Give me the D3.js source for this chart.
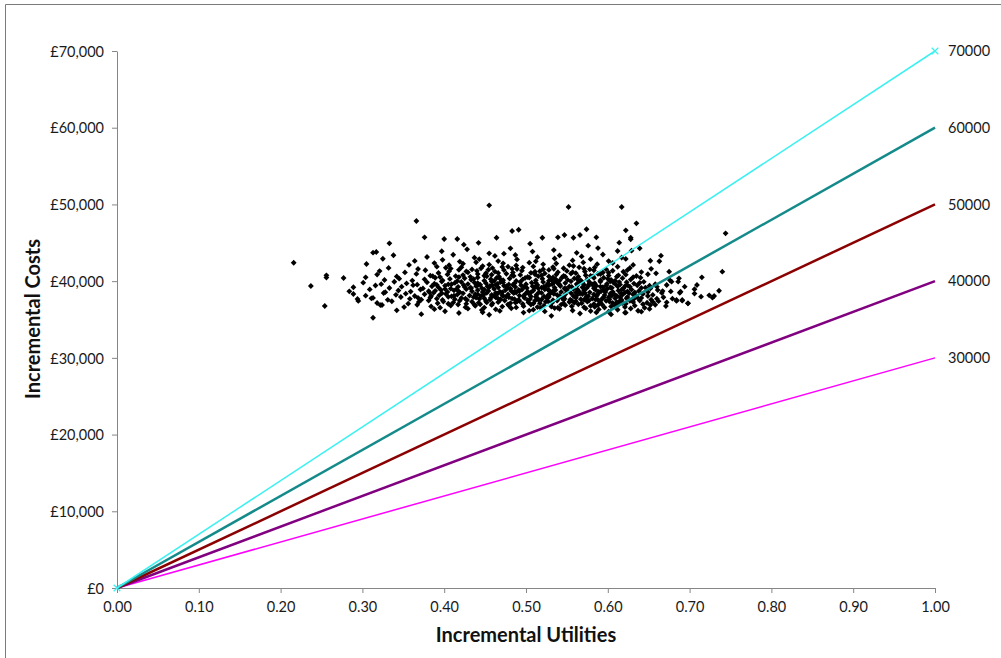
<!DOCTYPE html>
<html lang="en">
<head>
    <meta charset="UTF-8">
    <script src="https://d3js.org/d3.v7.min.js"></script>
    <title>Cost-effectiveness plane</title>
    <style>
        body { margin: 0; background: #fff; }
        svg { display: block; }
        .tick text { font-family: Lato, "Open Sans", sans-serif; font-size: 14.5px; fill: #1a1a1a; }
        .axis-title { font-family: Lato, "Open Sans", sans-serif; font-size: 20px; font-weight: bold; fill: #111; }
        .wtp-label { font-family: Lato, "Open Sans", sans-serif; font-size: 14.5px; fill: #1a1a1a; }
    </style>
</head>
<body>
<div id="chart"></div>
<script>

// willingness-to-pay thresholds (cost per unit utility)
const thresholds = [30000, 40000, 50000, 60000, 70000];
const thresholdColors = ['#ff00ff', '#800080', '#8b0000', '#148a8a', '#3ff0f0'];
const thresholdWidths = [1.5, 2.5, 2.5, 2.5, 1.5];

const xTicks = [0, 0.1, 0.2, 0.3, 0.4, 0.5, 0.6, 0.7, 0.8, 0.9, 1.0];
const yTicks = [0, 10000, 20000, 30000, 40000, 50000, 60000, 70000];

// scattered simulation results, outer points
const sparsePoints = [
    [0.455,49880],[0.552,49660],[0.617,49660],[0.366,47840],[0.635,47540],[0.483,46540],[0.491,46700],
    [0.574,46760],[0.622,46620],[0.744,46230],[0.730,38060],[0.736,38750],[0.698,37110],[0.691,37540],
    [0.684,37540],[0.652,36890],[0.641,36020],[0.621,35890],[0.313,35230],[0.324,36890],[0.254,36760],
    [0.294,37670],[0.311,37760],[0.333,44930],[0.376,45710],[0.400,45490],[0.416,45490],[0.464,45660],
    [0.520,45660],[0.539,45710],[0.547,46010],[0.558,45660],[0.566,46010],[0.586,45710],[0.628,45660],
    [0.628,45450],[0.614,45010],[0.424,44750],[0.442,44990],[0.505,44880],[0.576,44620]
];

// dense part of the cloud
const densePoints = [
    [0.372,35700],[0.418,35850],[0.455,35620],[0.497,35900],[0.531,35480],[0.566,35780],[0.604,35660],[0.622,35890],[0.447,35950],[0.586,35920],
    [0.342,36200],[0.388,36350],[0.401,36080],[0.429,36410],[0.446,36230],[0.468,36120],[0.482,36460],[0.509,36280],[0.523,36050],[0.541,36390],
    [0.557,36170],[0.573,36440],[0.589,36310],[0.601,36020],[0.612,36270],[0.628,36430],[0.637,36140],[0.651,36380],[0.463,36330],[0.535,36490],
    [0.579,36100],[0.504,36150],
    [0.322,36880],[0.351,36620],[0.367,36910],[0.384,36700],[0.395,36540],[0.408,36830],[0.417,36960],[0.426,36610],[0.438,36790],[0.449,36550],
    [0.458,36900],[0.471,36680],[0.479,36830],[0.488,36570],[0.497,36740],[0.506,36950],[0.514,36620],[0.522,36810],[0.531,36690],[0.539,36530],
    [0.548,36870],[0.556,36720],[0.564,36980],[0.571,36600],[0.579,36770],[0.588,36890],[0.596,36560],[0.604,36710],[0.613,36940],[0.621,36630],
    [0.633,36800],[0.645,36520],[0.658,36920],[0.671,36750],[0.444,36990],[0.518,36510],[0.584,36650],[0.609,36830],
    [0.295,37420],[0.318,37150],[0.336,37380],[0.356,37060],[0.369,37290],[0.381,37470],[0.392,37120],[0.399,37330],[0.411,37210],[0.419,37450],
    [0.427,37040],[0.434,37310],[0.442,37170],[0.451,37400],[0.459,37090],[0.466,37260],[0.474,37480],[0.481,37140],[0.489,37350],[0.496,37020],
    [0.503,37230],[0.511,37440],[0.517,37110],[0.524,37300],[0.532,37190],[0.538,37460],[0.546,37070],[0.553,37280],[0.561,37390],[0.568,37130],
    [0.575,37320],[0.583,37010],[0.591,37240],[0.598,37430],[0.606,37160],[0.614,37350],[0.622,37050],[0.631,37270],[0.639,37480],[0.648,37180],
    [0.662,37390],[0.684,37420],[0.691,37450],[0.698,37110],[0.672,37240],[0.487,37200],[0.556,37470],[0.602,37330],
    [0.313,37810],[0.331,37560],[0.347,37930],[0.358,37690],[0.372,37580],[0.383,37860],[0.391,37720],[0.398,37540],[0.405,37960],[0.413,37640],
    [0.421,37800],[0.428,37530],[0.436,37910],[0.443,37680],[0.449,37770],[0.456,37590],[0.463,37880],[0.469,37620],[0.476,37990],[0.483,37730],
    [0.491,37570],[0.498,37840],[0.505,37660],[0.512,37950],[0.519,37610],[0.526,37780],[0.533,37520],[0.541,37890],[0.547,37700],[0.554,37580],
    [0.561,37830],[0.567,37650],[0.574,37970],[0.581,37740],[0.588,37550],[0.595,37870],[0.602,37630],[0.609,37760],[0.617,37530],[0.624,37920],
    [0.632,37690],[0.641,37810],[0.653,37580],[0.668,37900],[0.679,37720],[0.714,37980],[0.728,37850],[0.439,37850],[0.502,37530],[0.528,37940],
    [0.571,37570],[0.593,37700],[0.615,37880],[0.466,37720],[0.546,37960],
    [0.289,38320],[0.304,38110],[0.326,38450],[0.341,38210],[0.353,38370],[0.364,38060],[0.376,38290],[0.387,38480],[0.394,38150],[0.402,38340],
    [0.409,38020],[0.416,38250],[0.423,38410],[0.431,38130],[0.438,38300],[0.445,38070],[0.452,38460],[0.458,38190],[0.465,38360],[0.472,38040],
    [0.478,38270],[0.485,38430],[0.492,38120],[0.499,38310],[0.506,38010],[0.513,38230],[0.519,38470],[0.527,38160],[0.534,38350],[0.541,38080],
    [0.548,38280],[0.555,38440],[0.562,38140],[0.569,38320],[0.576,38030],[0.583,38260],[0.589,38490],[0.596,38180],[0.603,38370],[0.611,38090],
    [0.618,38240],[0.626,38420],[0.634,38110],[0.643,38330],[0.655,38200],[0.666,38460],[0.688,38490],[0.706,38380],[0.724,38150],[0.397,38420],
    [0.448,38230],[0.503,38400],[0.538,38200],[0.572,38450],[0.608,38280],[0.461,38090],[0.586,38050],[0.631,38260],
    [0.284,38670],[0.309,38920],[0.328,38560],[0.344,38780],[0.359,38640],[0.371,38910],[0.382,38530],[0.389,38740],[0.396,38860],[0.404,38600],
    [0.412,38790],[0.419,38540],[0.427,38950],[0.434,38680],[0.441,38820],[0.447,38570],[0.454,38730],[0.461,38990],[0.468,38620],[0.475,38850],
    [0.482,38700],[0.488,38510],[0.495,38890],[0.502,38650],[0.509,38780],[0.516,38560],[0.523,38940],[0.529,38710],[0.536,38830],[0.543,38590],
    [0.551,38760],[0.558,38960],[0.565,38630],[0.571,38800],[0.578,38540],[0.585,38870],[0.592,38690],[0.599,38980],[0.606,38610],[0.613,38770],
    [0.621,38520],[0.629,38900],[0.638,38720],[0.649,38580],[0.661,38840],[0.677,38660],[0.706,38940],[0.689,38620],[0.415,38950],[0.471,38540],
    [0.532,38550],[0.563,38900],[0.597,38580],[0.624,38660],[0.492,38720],[0.548,38930],
    [0.237,39370],[0.289,39200],[0.316,39430],[0.333,39110],[0.348,39280],[0.362,39470],[0.374,39050],[0.385,39330],[0.393,39180],[0.401,39410],
    [0.408,39020],[0.417,39260],[0.424,39480],[0.432,39140],[0.439,39350],[0.446,39080],[0.453,39300],[0.459,39450],[0.466,39170],[0.473,39390],
    [0.481,39010],[0.487,39240],[0.494,39460],[0.501,39120],[0.508,39320],[0.515,39060],[0.522,39280],[0.528,39440],[0.535,39150],[0.542,39370],
    [0.549,39030],[0.556,39250],[0.563,39490],[0.569,39190],[0.576,39340],[0.583,39070],[0.591,39290],[0.598,39420],[0.605,39130],[0.612,39310],
    [0.619,39040],[0.627,39270],[0.636,39450],[0.646,39160],[0.660,39280],[0.694,39280],[0.709,39500],[0.672,39500],[0.441,39470],[0.511,39200],
    [0.586,39400],[0.624,39480],
    [0.301,39800],[0.323,39610],[0.339,39920],[0.354,39700],[0.367,39540],[0.379,39850],[0.388,39660],[0.397,39950],[0.405,39580],[0.413,39770],
    [0.421,39890],[0.429,39620],[0.437,39810],[0.444,39530],[0.451,39740],[0.458,39960],[0.465,39640],[0.472,39830],[0.479,39570],[0.486,39710],
    [0.493,39900],[0.500,39600],[0.507,39790],[0.514,39510],[0.521,39880],[0.527,39690],[0.534,39820],[0.541,39560],[0.548,39750],[0.555,39970],
    [0.562,39630],[0.569,39840],[0.577,39590],[0.584,39720],[0.591,39930],[0.599,39650],[0.607,39800],[0.615,39550],[0.623,39870],[0.632,39680],
    [0.644,39910],[0.658,39610],[0.686,39930],[0.678,39930],[0.463,39520],[0.538,39940],[0.571,39520],[0.603,39990],
    [0.256,40460],[0.277,40410],[0.304,40500],[0.327,40150],[0.345,40320],[0.361,40070],[0.376,40240],[0.389,40440],[0.398,40110],[0.407,40290],
    [0.416,40020],[0.425,40380],[0.433,40180],[0.441,40470],[0.449,40060],[0.457,40260],[0.464,40410],[0.472,40130],[0.480,40340],[0.488,40030],
    [0.496,40220],[0.504,40450],[0.512,40100],[0.520,40310],[0.528,40040],[0.536,40270],[0.544,40480],[0.551,40160],[0.559,40350],[0.567,40080],
    [0.575,40230],[0.583,40420],[0.591,40120],[0.600,40300],[0.609,40050],[0.618,40390],[0.628,40200],[0.640,40450],[0.687,40370],[0.715,40500],
    [0.676,40100],[0.533,40490],
    [0.256,40760],[0.318,40850],[0.342,40620],[0.366,40940],[0.383,40710],[0.395,40530],[0.404,40880],[0.414,40660],[0.423,40790],[0.432,40560],
    [0.441,40920],[0.449,40700],[0.458,40830],[0.467,40590],[0.476,40960],[0.485,40680],[0.493,40810],[0.502,40540],[0.511,40900],[0.519,40730],
    [0.528,40610],[0.537,40860],[0.546,40690],[0.555,40980],[0.564,40570],[0.573,40770],[0.582,40640],[0.591,40930],[0.601,40720],[0.611,40580],
    [0.622,40840],[0.635,40670],[0.659,41020],[0.649,40900],
    [0.321,41310],[0.352,41140],[0.377,41420],[0.393,41060],[0.406,41280],[0.418,41470],[0.429,41150],[0.440,41340],[0.451,41030],[0.462,41250],
    [0.473,41440],[0.484,41120],[0.495,41370],[0.506,41080],[0.517,41290],[0.528,41460],[0.539,41170],[0.550,41330],[0.561,41040],[0.572,41260],
    [0.583,41410],[0.594,41130],[0.606,41350],[0.619,41220],[0.641,41180],[0.675,41230],[0.740,41230],[0.454,41490],
    [0.332,41720],[0.368,41580],[0.391,41890],[0.408,41640],[0.421,41810],[0.434,41530],[0.447,41960],[0.459,41700],[0.471,41850],[0.483,41600],
    [0.496,41770],[0.509,41920],[0.521,41550],[0.533,41830],[0.546,41680],[0.558,41970],[0.571,41620],[0.584,41790],[0.598,41540],[0.612,41880],
    [0.627,41710],[0.653,41600],
    [0.216,42400],[0.305,42230],[0.357,42110],[0.388,42350],[0.406,42070],[0.423,42280],[0.439,42460],[0.455,42150],[0.472,42320],[0.488,42040],
    [0.504,42410],[0.521,42190],[0.537,42300],[0.553,42080],[0.570,42440],[0.587,42210],[0.606,42370],[0.631,42120],
    [0.325,42920],[0.364,42640],[0.398,42780],[0.419,42550],[0.443,42880],[0.466,42610],[0.489,42830],[0.512,42580],[0.535,42950],[0.557,42700],
    [0.579,42860],[0.601,42620],[0.622,42900],[0.652,42660],[0.663,42590],
    [0.338,43370],[0.379,43150],[0.411,43440],[0.437,43060],[0.462,43290],[0.487,43410],[0.514,43120],[0.541,43350],[0.568,43220],[0.594,43470],
    [0.617,43080],[0.665,43320],
    [0.313,43710],[0.317,43800],[0.397,43900],[0.428,44150],[0.455,43620],[0.481,44280],[0.508,43850],[0.534,44050],[0.562,43690],[0.588,44310],
    [0.612,43930],[0.629,43970],[0.639,44280],[0.473,43580]
];

// extra points in the darkest middle of the cloud
const corePoints = [
    [0.405,37050],[0.437,36920],[0.452,37230],[0.478,36980],[0.492,37410],[0.509,37080],[0.527,37360],[0.543,36940],[0.559,37180],[0.577,37470],
    [0.593,36960],[0.611,37250],[0.627,37430],[0.643,36990],[0.655,37300],[0.468,37550],[0.515,37580],[0.585,37590],[0.618,37140],[0.546,37550],
    [0.412,38100],[0.426,37700],[0.441,38280],[0.457,37820],[0.471,38180],[0.486,37660],[0.497,38060],[0.514,37760],[0.529,38320],[0.544,37850],
    [0.558,38060],[0.573,37690],[0.587,38200],[0.601,37910],[0.616,38380],[0.636,37880],[0.649,38060],[0.660,37700],[0.384,38050],[0.368,37820],
    [0.479,37900],[0.522,38000],[0.566,38380],[0.605,38130],[0.623,37770],
    [0.401,38990],[0.418,38640],[0.433,39100],[0.449,38900],[0.463,38460],[0.478,39120],[0.491,38850],[0.506,38530],[0.519,39160],[0.533,38680],
    [0.547,39060],[0.561,38510],[0.574,39080],[0.589,38620],[0.603,39170],[0.617,38890],[0.633,38530],[0.652,39050],[0.667,38700],[0.381,38690],
    [0.455,39190],[0.527,38880],[0.595,38820],[0.641,39120],[0.486,38640],
    [0.409,39600],[0.425,39230],[0.441,39750],[0.456,39380],[0.469,39880],[0.484,39520],[0.498,39250],[0.512,39780],[0.525,39400],[0.539,39700],
    [0.553,39310],[0.566,39920],[0.581,39560],[0.594,39210],[0.609,39640],[0.621,39350],[0.639,39780],[0.651,39400],[0.391,39500],[0.476,39340],
    [0.532,39580],[0.578,39830],[0.614,39880],
    [0.418,40530],[0.436,40270],[0.452,40640],[0.468,40330],[0.483,40760],[0.499,40420],[0.515,40650],[0.531,40200],[0.548,40580],[0.563,40250],
    [0.579,40690],[0.595,40440],[0.613,40760],[0.631,40520],[0.386,40650],[0.461,40030],[0.541,40070],[0.604,40170],
    [0.427,41270],[0.445,41680],[0.466,41070],[0.489,41580],[0.511,41220],[0.534,41620],[0.557,41170],[0.578,41540],[0.601,41110],[0.624,41440],
    [0.402,41750],[0.478,41890],[0.523,41010],[0.565,41800],[0.588,40960]
];

const w = 1001;
const h = 658;
const padLeft = 117, padRight = 935, padTop = 51, padBottom = 588;

const xScale = d3.scaleLinear().domain([0, 1]).range([padLeft, padRight]);
const yScale = d3.scaleLinear().domain([0, 70000]).range([padBottom, padTop]);

const svg = d3.select('#chart')
    .append('svg')
    .attr('width', w)
    .attr('height', h);

// frame (only left and top edges show in the shot)
svg.append('path')
    .attr('d', 'M5.5,' + h + 'V4.5H' + w)
    .attr('fill', 'none')
    .attr('stroke', '#7a7a7a')
    .attr('stroke-width', 1);

//axes
const xAxis = d3.axisBottom(xScale)
    .tickValues(xTicks)
    .tickSize(5)
    .tickSizeOuter(0)
    .tickPadding(9)
    .tickFormat(d3.format('.2f'));

const yAxis = d3.axisLeft(yScale)
    .tickValues(yTicks)
    .tickSize(5)
    .tickSizeOuter(0)
    .tickPadding(8)
    .tickFormat(d => '£' + d3.format(',')(d));

const gx = svg.append('g')
    .attr('transform', 'translate(0,' + padBottom + ')')
    .call(xAxis);
const gy = svg.append('g')
    .attr('transform', 'translate(' + padLeft + ',0)')
    .call(yAxis);

[gx, gy].forEach(g => {
    g.select('.domain').attr('stroke', '#868686');
    g.selectAll('.tick line').attr('stroke', '#868686');
});
gy.selectAll('.tick text').attr('dy', '0.36em');

// scatter
const diamond = d3.symbol().type(d3.symbolSquare).size(17);
svg.append('g')
    .selectAll('path')
    .data(sparsePoints.concat(densePoints, corePoints))
    .enter().append('path')
    .attr('d', diamond)
    .attr('transform', d => 'translate(' + xScale(d[0]) + ',' + yScale(d[1]) + ') rotate(45)')
    .attr('fill', '#000');

// threshold lines
const lineGen = d3.line().x(d => xScale(d[0])).y(d => yScale(d[1]));
thresholds.forEach((t, i) => {
    svg.append('path')
        .datum([[0, 0], [1, t]])
        .attr('d', lineGen)
        .attr('fill', 'none')
        .attr('stroke', thresholdColors[i])
        .attr('stroke-width', thresholdWidths[i]);

    svg.append('text')
        .attr('class', 'wtp-label')
        .attr('x', xScale(1) + 13)
        .attr('y', yScale(t))
        .attr('dy', '0.36em')
        .text(t);
});

// x markers on the 70000 line
const cross = d3.symbol().type(d3.symbolTimes).size(30);
svg.append('g')
    .selectAll('path')
    .data([[0, 0], [1, 70000]])
    .enter().append('path')
    .attr('d', cross)
    .attr('transform', d => 'translate(' + xScale(d[0]) + ',' + yScale(d[1]) + ')')
    .attr('fill', 'none')
    .attr('stroke', thresholdColors[4])
    .attr('stroke-width', 1.3);

// axis titles
svg.append('text')
    .attr('class', 'axis-title')
    .attr('x', (padLeft + padRight) / 2)
    .attr('y', 642)
    .attr('text-anchor', 'middle')
    .text('Incremental Utilities');

svg.append('text')
    .attr('class', 'axis-title')
    .attr('transform', 'translate(40,319) rotate(-90)')
    .attr('text-anchor', 'middle')
    .text('Incremental Costs');

</script>
</body>
</html>
